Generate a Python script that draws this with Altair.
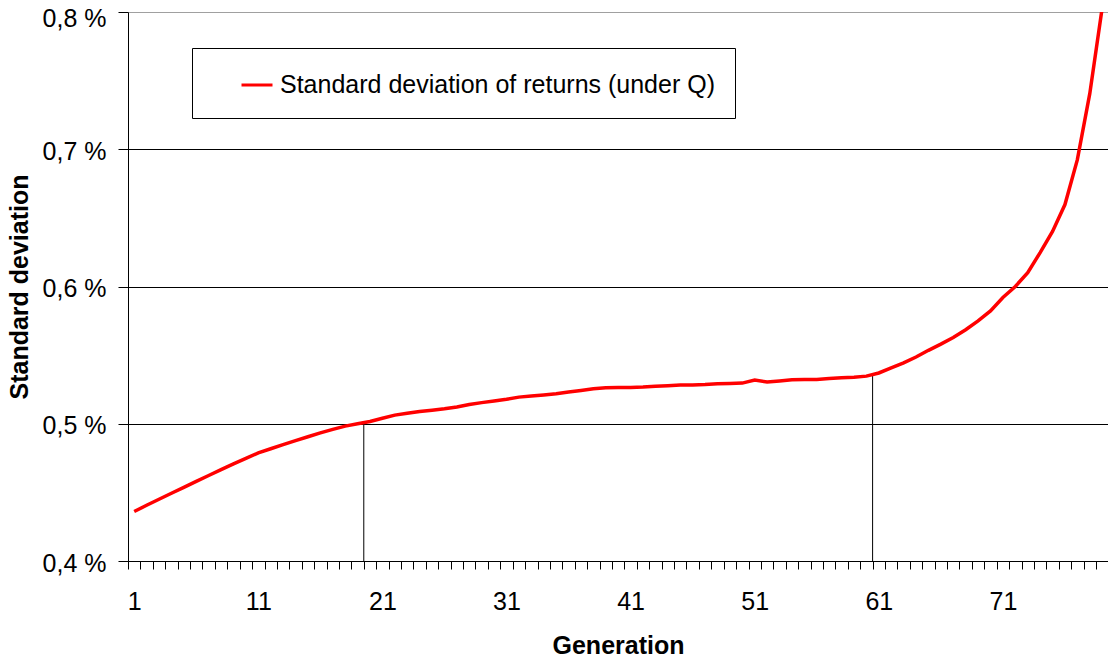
import altair as alt
import pandas as pd

# ---- data ----
generation = list(range(1, 80))
std_dev = [0.4361, 0.4406, 0.4450, 0.4494, 0.4537, 0.4580, 0.4623, 0.4666, 0.4707, 0.4747,
           0.4788, 0.4818, 0.4848, 0.4877, 0.4905, 0.4933, 0.4959, 0.4983, 0.5000, 0.5017,
           0.5040, 0.5063, 0.5077, 0.5089, 0.5099, 0.5109, 0.5122, 0.5140, 0.5154, 0.5165,
           0.5178, 0.5194, 0.5202, 0.5210, 0.5218, 0.5231, 0.5242, 0.5255, 0.5262, 0.5264,
           0.5265, 0.5267, 0.5273, 0.5277, 0.5282, 0.5283, 0.5286, 0.5291, 0.5293, 0.5296,
           0.5318, 0.5305, 0.5312, 0.5320, 0.5322, 0.5323, 0.5329, 0.5336, 0.5339, 0.5347,
           0.5370, 0.5407, 0.5443, 0.5486, 0.5535, 0.5580, 0.5628, 0.5685, 0.5749, 0.5822,
           0.5920, 0.6000, 0.6101, 0.6247, 0.6401, 0.6597, 0.6924, 0.7405, 0.8030]
series_name = "Standard deviation of returns (under Q)"

marker_x = [19.5, 60.5]
marker_top = [0.5008, 0.5358]

y_ticks = [0.4, 0.5, 0.6, 0.7, 0.8]
x_ticks = list(range(1, 81))

FONT = "Liberation Sans"

df = pd.DataFrame({"gen": generation, "sd": std_dev, "series": series_name})
df_rules = pd.DataFrame({"gen": marker_x, "top": marker_top, "bottom": [0.4] * len(marker_x)})

PLOT_W = 980
STEP = 12.41
x_scale = alt.Scale(domain=[0.5, 0.5 + PLOT_W / STEP], nice=False, zero=False)
y_scale = alt.Scale(domain=[0.4, 0.8], nice=False, zero=False)

x_axis = alt.Axis(
    title="Generation",
    values=x_ticks,
    tickCount=200,
    tickOffset=-STEP / 2,
    labelOffset=STEP / 2,
    labelExpr="(datum.value - 1) % 10 == 0 ? format(datum.value, 'd') : ''",
    labelOverlap=False,
    labelFlush=False,
    labelBound=False,
    grid=False,
    tickSize=8,
    labelBaseline="alphabetic",
    labelPadding=40,
    titleY=92,
    titleBaseline="alphabetic",
)

y_axis = alt.Axis(
    title="Standard deviation",
    values=y_ticks,
    labelExpr="replace(format(datum.value, '.1f'), '.', ',') + ' %'",
    grid=True,
    gridColor={"condition": {"test": "datum.value > 0.75", "value": "#a0a0a0"}, "value": "#000000"},
    tickSize=10,
    labelPadding=12,
    labelOffset={"condition": {"test": "datum.value > 0.75", "value": 6}, "value": 2},
    titleX=-101,
    titleY=274.5,
    titleBaseline="alphabetic",
    titleAngle=270,
)

line = alt.Chart(df).mark_line(strokeWidth=3.5, clip=True).encode(
    x=alt.X("gen:Q", scale=x_scale, axis=x_axis),
    y=alt.Y("sd:Q", scale=y_scale, axis=y_axis),
    color=alt.Color(
        "series:N",
        scale=alt.Scale(range=["#ff0000"]),
        legend=alt.Legend(
            title=None,
            orient="none",
            legendX=64,
            legendY=36,
            symbolType="stroke",
            symbolSize=961,
            symbolStrokeWidth=3,
            symbolOffset=28,
            labelOffset=6,
            labelFontSize=25,
            labelFont=FONT,
            labelColor="black",
            labelLimit=800,
            strokeColor="black",
            fillColor="white",
            padding=20,
        ),
    ),
)

rules = alt.Chart(df_rules).mark_rule(color="black", strokeWidth=1).encode(
    x=alt.X("gen:Q", scale=x_scale),
    y=alt.Y("bottom:Q", scale=y_scale),
    y2="top:Q",
)

chart = alt.layer(rules, line).properties(
    width=PLOT_W,
    height=549,
    autosize=alt.AutoSizeParams(type="none"),
    padding={"left": 120, "top": 4, "right": 0, "bottom": 93},
).configure_view(
    stroke=None
).configure_axis(
    labelFont=FONT,
    labelFontSize=25,
    labelColor="black",
    titleFont=FONT,
    titleFontSize=25,
    titleFontWeight="bold",
    titleColor="black",
    domainColor="black",
    tickColor="black",
    domainWidth=1,
    tickWidth=1,
    gridWidth=1,
)

chart.save("out.html", embed_options={"renderer": "svg", "actions": False})
